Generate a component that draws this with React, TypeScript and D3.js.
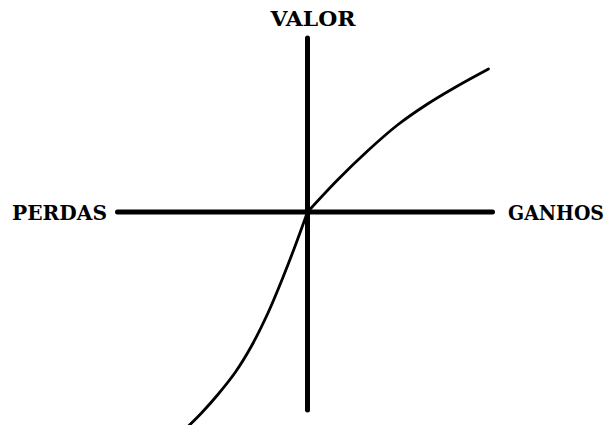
import React from "react";
import * as d3 from "d3";

// Value function (prospect theory) sampled points: outcome vs. subjective value
const gainsX = [0, 30, 60, 90, 120, 150, 181];
const gainsV = [0, 32, 61, 87, 108, 126, 143];
const lossesX = [-120, -106, -90, -72, -56, -40, -24, -12, 0];
const lossesV = [-215, -201, -183, -160, -134, -102, -64, -33, 0];

const axisLabels = { y: "VALOR", left: "PERDAS", right: "GANHOS" };
const xExtent = [-190, 185];
const yExtent = [-198, 174];

export default function App() {
  const W = 610;
  const H = 425;
  const x = d3.scaleLinear().domain([0, 1]).range([307.5, 308.5]);
  const y = d3.scaleLinear().domain([0, 1]).range([212, 211]);
  const line = d3
    .line<[number, number]>()
    .x((d) => x(d[0]))
    .y((d) => y(d[1]))
    .curve(d3.curveCatmullRom.alpha(0.5));
  const gains = gainsX.map((v, i) => [v, gainsV[i]] as [number, number]);
  const losses = lossesX.map((v, i) => [v, lossesV[i]] as [number, number]);
  const font = "DejaVu Serif";
  return (
    <svg
      width={W}
      height={H}
      style={{ position: "absolute", left: 0, top: 0, background: "#fff" }}
    >
      <line
        x1={x(xExtent[0])}
        x2={x(xExtent[1])}
        y1={y(0)}
        y2={y(0)}
        stroke="#000"
        strokeWidth={5}
        strokeLinecap="round"
      />
      <line
        x1={x(0)}
        x2={x(0)}
        y1={y(yExtent[0])}
        y2={y(yExtent[1])}
        stroke="#000"
        strokeWidth={5}
        strokeLinecap="round"
      />
      <path d={line(gains) || ""} fill="none" stroke="#000" strokeWidth={2.8} strokeLinecap="round" />
      <path d={line(losses) || ""} fill="none" stroke="#000" strokeWidth={2.8} strokeLinecap="round" />
      <g fontFamily={font} fontWeight="bold" fontSize={20}>
        <text x={313} y={26} textAnchor="middle" textLength={85} lengthAdjust="spacingAndGlyphs">
          {axisLabels.y}
        </text>
        <text x={12} y={220} textLength={95} lengthAdjust="spacingAndGlyphs">
          {axisLabels.left}
        </text>
        <text x={508} y={220} textLength={96} lengthAdjust="spacingAndGlyphs">
          {axisLabels.right}
        </text>
      </g>
    </svg>
  );
}
